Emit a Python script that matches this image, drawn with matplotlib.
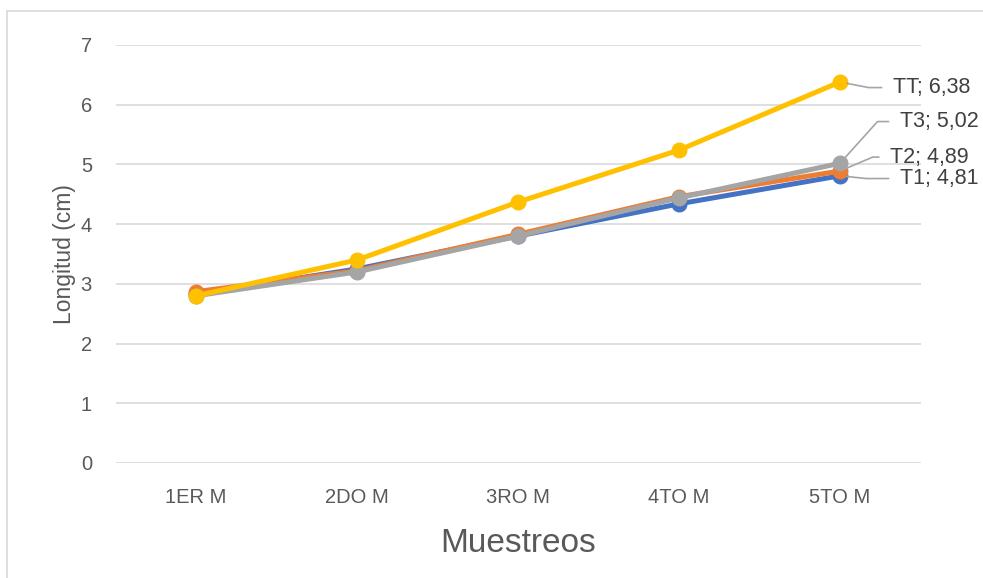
import matplotlib
matplotlib.use("Agg")
import matplotlib.pyplot as plt
from matplotlib.lines import Line2D

plt.rcParams['font.family'] = ['Liberation Sans', 'DejaVu Sans']

categories = ["1ER M", "2DO M", "3RO M", "4TO M", "5TO M"]
series_names = ["T1", "T2", "T3", "TT"]
t1 = [2.83, 3.25, 3.80, 4.34, 4.81]
t2 = [2.87, 3.22, 3.83, 4.46, 4.89]
t3 = [2.80, 3.20, 3.80, 4.44, 5.02]
tt = [2.80, 3.40, 4.37, 5.24, 6.38]
colors = ["#4472C4", "#ED7D31", "#A5A5A5", "#FFC000"]
yticks = [0, 1, 2, 3, 4, 5, 6, 7]

W, H = 983, 578
fig = plt.figure(figsize=(W / 100, H / 100), dpi=100)
ax = fig.add_axes([115.5 / W, 1 - 463 / H, (920.5 - 115.5) / W, (463 - 45) / H])

x = list(range(len(categories)))
data = [t1, t2, t3, tt]
for name, vals, c in zip(series_names, data, colors):
    ax.plot(x, vals, color=c, lw=3.6, marker='o', ms=10.5, mec=c, mfc=c,
            solid_capstyle='round', zorder=3, label=name)

ax.set_xlim(-0.5, len(categories) - 0.5)
ax.set_ylim(0, 7)
ax.set_yticks(yticks)
ax.set_xticks(x)
ax.set_xticklabels(categories)
ax.grid(axis='y', color='#D9D9D9', lw=1.2)
ax.set_axisbelow(True)
for s in ax.spines.values():
    s.set_visible(False)
ax.tick_params(length=0, labelsize=14.5, labelcolor='#595959')
ax.tick_params(axis='y', pad=17)
ax.tick_params(axis='x', pad=18)

ax.set_xlabel("Muestreos", fontsize=24, color='#595959', labelpad=15)
ax.set_ylabel("Longitud (cm)", fontsize=16.5, color='#595959', labelpad=3)

# data labels with leader lines
offsets = {"TT": (38, -4, -11), "T3": (43, 30, 48), "T2": (36, 10, 23), "T1": (43, -2, -6)}
for name, vals in zip(series_names, data):
    dx, dy, ang = offsets[name]
    xi = len(categories) - 1
    ax.annotate(f"{name}; {vals[-1]:.2f}".replace('.', ','),
                xy=(xi, vals[-1]), xytext=(dx, dy), textcoords='offset points',
                ha='left', va='center', fontsize=15.5, color='#404040',
                arrowprops=dict(arrowstyle='-', color='#A5A5A5', lw=1.2,
                                relpos=(0, 0.5), shrinkA=6, shrinkB=5,
                                connectionstyle=f"angle,angleA=0,angleB={ang},rad=0"),
                annotation_clip=False, zorder=5)

# partial chart border (left and top)
fig.add_artist(Line2D([7 / W, 7 / W], [0, 1 - 11 / H], transform=fig.transFigure,
                      color='#D9D9D9', lw=1.2))
fig.add_artist(Line2D([7 / W, 1], [1 - 11 / H, 1 - 11 / H], transform=fig.transFigure,
                      color='#D9D9D9', lw=1.2))

fig.savefig("out.png", dpi=100)
